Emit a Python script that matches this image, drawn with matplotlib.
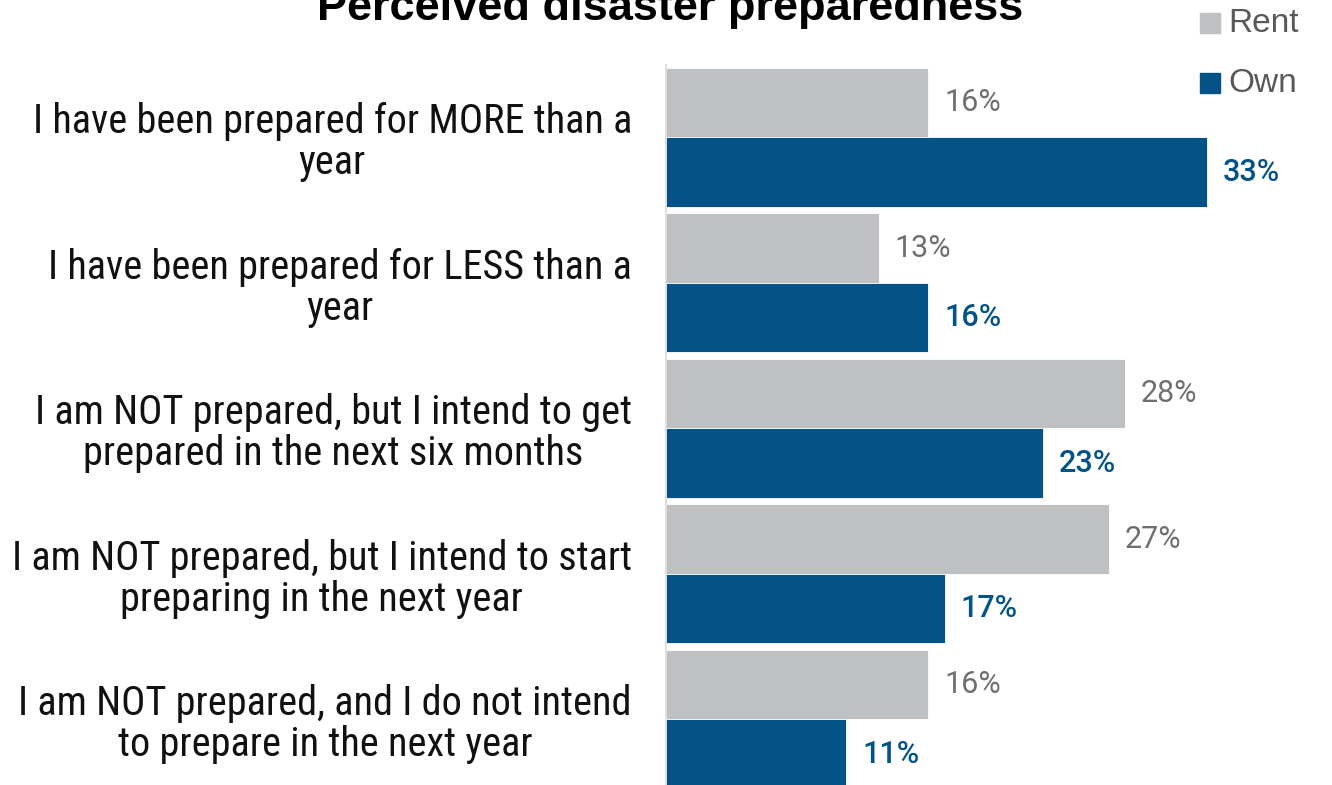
import numpy as np
import matplotlib
matplotlib.use('Agg')
from matplotlib import pyplot as plt

# Data #
categories = [
    "I have been prepared for MORE than a\nyear",
    "I have been prepared for LESS than a\nyear",
    "I am NOT prepared, but I intend to get\nprepared in the next six months",
    "I am NOT prepared, but I intend to start\npreparing in the next year",
    "I am NOT prepared, and I do not intend\nto prepare in the next year",
]
rent = [16, 13, 28, 27, 16]
own = [33, 16, 23, 17, 11]
series_names = ["Rent", "Own"]

gray = '#bfc0c2'
blue = '#035288'
label_font = ['Roboto Condensed', 'DejaVu Sans']
value_font = ['Roboto', 'DejaVu Sans']

# Plot #
fig = plt.figure(figsize=(13.32, 7.85), dpi=100)
ax = fig.add_axes([666/1332, 1 - 792/785, 656/1332, (792 - 64.75)/785])

y = np.arange(len(categories))
h = 0.478
ax.barh(y - h/2, rent, height=h, color=gray, edgecolor='white', linewidth=0.6)
ax.barh(y + h/2, own, height=h, color=blue, edgecolor='white', linewidth=0.6)

for yi, v in zip(y, rent):
    ax.text(v + 0.95, yi - h/2, "%d%%" % v, va='center', ha='left',
            fontsize=22, color='#6f6f6f', family=value_font)
for yi, v in zip(y, own):
    ax.text(v + 0.95, yi + h/2, "%d%%" % v, va='center', ha='left',
            fontsize=22, color=blue, fontweight='medium', family=value_font)

ax.set_xlim(0, 40)
ax.set_ylim(len(categories) - 0.5, -0.5)
ax.set_yticks(y)
ax.set_yticklabels(categories, fontsize=29, family=label_font,
                   multialignment='center', color='#111111', linespacing=1.06)
ax.tick_params(axis='y', length=0, pad=24.5)
ax.set_xticks([])
for s in ['top', 'right', 'bottom']:
    ax.spines[s].set_visible(False)
ax.spines['left'].set_color('#d9d9d9')
ax.spines['left'].set_linewidth(1.2)

# Title #
fig.text(0.503, 1 - 20/785, "Perceived disaster preparedness", ha='center',
         va='baseline', fontsize=32.5, fontweight='bold', family='Liberation Sans')

# Legend #
for name, col, yy in [("Rent", gray, 23), ("Own", blue, 83)]:
    fig.patches.append(plt.Rectangle((1200/1332, 1 - (yy + 10)/785), 20/1332, 20/785,
                                     transform=fig.transFigure, color=col))
    fig.text(1228/1332, 1 - yy/785, name, ha='left', va='center',
             fontsize=24, color='#595959', family='Liberation Sans')

fig.savefig('out.png', dpi=100)
